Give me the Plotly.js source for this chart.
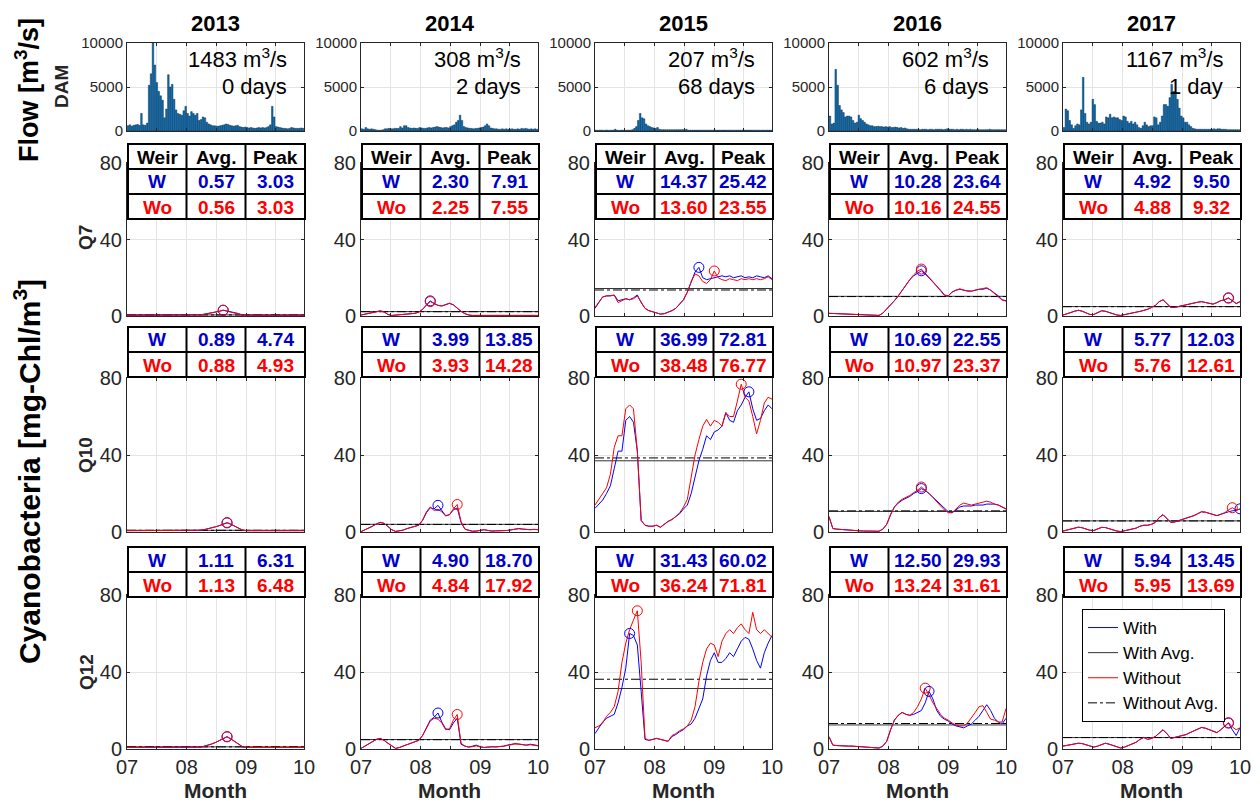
<!DOCTYPE html>
<html><head><meta charset="utf-8">
<script src="https://cdn.plot.ly/plotly-3.0.1.min.js"></script>
<style>html,body{margin:0;padding:0;background:#fff}#chart{width:1260px;height:808px}</style>
</head><body><div id="chart"></div>
<script>
// ---------------- DATA ----------------
const years = ['2013', '2014', '2015', '2016', '2017'];
const monthLabels = ['07', '08', '09', '10'];
const rowNames = ['DAM', 'Q7', 'Q10', 'Q12'];
const flowTicks = [0, 5000, 10000];
const flowTickLabels = ['0', '5000', '10000'];
const chlTicks = [0, 40, 80];
const flowRate = [1483, 308, 207, 602, 1167];
const flowDays = ['0 days', '2 days', '68 days', '6 days', '1 day'];

// daily DAM discharge (m3/s), Jul 1 .. Sep 30
const dam2013 = [600,700,550,650,700,750,650,2000,700,650, 900,5200,6500,10000,7500,5500,4500,4000,3500,1500,
  2500,6400,5000,5300,3600,2400,2000,1900,1800,2300, 2800,2000,1700,2200,2000,1800,2000,1200,1300,1600,
  1500,1000,800,700,600,600,550,550,600,650, 700,800,750,650,600,550,600,650,500,450,
  400,450,400,350,400,350,300,350,400,350, 400,350,400,500,700,2800,1600,500,450,400,
  350,300,300,250,300,400,350,300,300,300, 350,300];
const dam2014 = [250,200,400,250,200,250,200,150,100,100, 100,150,250,250,300,250,250,300,300,300,
  500,350,600,600,400,350,300,350,300,300, 400,350,300,300,350,400,350,400,450,500,
  450,400,350,400,400,350,500,600,700,1000, 1200,1800,1200,500,400,350,300,300,250,300,
  300,350,400,450,600,800,600,350,300,250, 250,200,200,250,200,250,200,200,250,200,
  200,250,200,300,250,300,250,200,250,200, 250,200];
const dam2015 = [100,80,100,100,80,100,100,80,100,100, 200,100,80,100,100,80,100,100,100,150,
  300,500,1200,2000,1500,1400,800,600,500,400, 350,300,400,200,150,150,150,150,150,150,
  150,150,150,150,150,150,150,200,100,100, 100,100,100,100,100,100,100,100,100,100,
  100,100,100,100,100,100,100,100,100,100, 100,100,100,100,100,100,100,100,100,100,
  100,100,100,100,100,100,100,100,100,100, 100,100];
const dam2016 = [1700,800,900,7000,5200,2900,2400,2100,1600,1700, 1700,1600,1200,900,1000,1800,1400,1200,1000,800,
  700,600,600,500,500,550,500,500,450,500, 450,500,400,400,450,400,350,400,300,350,
  250,200,200,200,200,200,200,150,200,200, 200,150,200,200,150,200,200,200,200,150,
  200,250,200,200,200,150,200,150,200,200, 150,200,150,200,150,150,150,200,150,150,
  150,150,150,200,150,150,150,150,150,150, 150,150];
const dam2017 = [400,2500,2300,1200,700,300,600,800,700,2400, 6100,2000,1000,800,1000,3600,3000,1100,900,900,
  1000,800,1600,1500,1900,1500,1600,1500,1500,1300, 1200,1700,1600,1100,900,1100,800,1000,700,400,
  300,600,1000,700,500,600,600,1600,1500,700, 1000,1700,3000,3000,2800,3800,5300,4500,4300,3600,
  2600,1700,1500,1000,1000,700,500,300,250,200, 200,200,200,200,200,200,200,200,250,200,
  250,250,200,200,200,150,150,150,150,150, 150,150];

// Cyanobacteria (mg-Chl/m3), every 2nd day from Jul 1 (47 samples)
const q7W2013  = [0.4,0.4,0.4,0.4,0.4,0.4,0.4,0.4,0.4,0.4, 0.4,0.4,0.4,0.4,0.4,0.4,0.4,0.4,0.5,0.6, 0.9,1.2,1.6,2.0,2.5,3.03,2.6,2.2,1.8,1.3, 0.5,0.4,0.4,0.4,0.4,0.4,0.4,0.4,0.4,0.4, 0.4,0.4,0.4,0.4,0.4,0.4,0.4];
const q7Wo2013 = [0.4,0.4,0.4,0.4,0.4,0.4,0.4,0.4,0.4,0.4, 0.4,0.4,0.4,0.4,0.4,0.4,0.4,0.4,0.5,0.6, 0.9,1.2,1.6,2.0,2.4,3.03,2.5,2.2,1.8,1.3, 0.5,0.4,0.4,0.4,0.4,0.4,0.4,0.4,0.4,0.4, 0.4,0.4,0.4,0.4,0.4,0.4,0.4];
const q10W2013  = [0.7,0.7,0.7,0.7,0.7,0.7,0.7,0.7,0.7,0.7, 0.7,0.7,0.7,0.7,0.7,0.7,0.7,0.7,0.8,0.9, 1.2,1.6,2.1,2.7,3.3,4.0,4.74,4.0,3.0,2.0, 1.0,0.7,0.7,0.7,0.7,0.7,0.7,0.7,0.7,0.7, 0.7,0.7,0.7,0.7,0.7,0.7,0.7];
const q10Wo2013 = [0.7,0.7,0.7,0.7,0.7,0.7,0.7,0.7,0.7,0.7, 0.7,0.7,0.7,0.7,0.7,0.7,0.7,0.7,0.8,0.9, 1.2,1.6,2.1,2.7,3.3,4.1,4.93,4.1,3.0,2.0, 1.0,0.7,0.7,0.7,0.7,0.7,0.7,0.7,0.7,0.7, 0.7,0.7,0.7,0.7,0.7,0.7,0.7];
const q12W2013  = [0.8,0.8,0.8,0.8,0.8,0.8,0.8,0.8,0.8,0.8, 0.8,0.8,0.8,0.8,0.8,0.8,0.8,0.8,0.9,1.0, 1.4,1.9,2.6,3.4,4.3,5.3,6.31,5.2,3.8,2.4, 1.2,0.8,0.8,0.8,0.8,0.8,0.8,0.8,0.8,0.8, 0.8,0.8,0.8,0.8,0.8,0.8,0.8];
const q12Wo2013 = [0.8,0.8,0.8,0.8,0.8,0.8,0.8,0.8,0.8,0.8, 0.8,0.8,0.8,0.8,0.8,0.8,0.8,0.8,0.9,1.0, 1.4,1.9,2.6,3.4,4.3,5.4,6.48,5.3,3.8,2.4, 1.2,0.8,0.8,0.8,0.8,0.8,0.8,0.8,0.8,0.8, 0.8,0.8,0.8,0.8,0.8,0.8,0.8];

const q7W2014  = [0.5,1.0,1.5,2.0,2.4,2.7,2.2,0.8,0.3,0.4, 0.6,0.8,1.0,1.2,1.4,2.0,3.5,6.0,7.91,6.6, 5.6,5.2,6.0,6.6,5.8,4.0,2.4,1.2,0.5,0.3, 0.3,0.4,0.6,0.5,0.3,0.3,0.3,0.4,0.4,0.3, 0.3,0.3,0.4,0.4,0.3,0.3,0.3];
const q7Wo2014 = [0.5,1.0,1.5,2.0,2.4,2.6,2.1,0.8,0.3,0.4, 0.6,0.8,1.0,1.2,1.4,2.0,3.4,5.8,7.55,6.4, 5.5,5.3,6.1,6.7,5.9,4.1,2.5,1.2,0.5,0.3, 0.3,0.4,0.6,0.5,0.3,0.3,0.3,0.4,0.4,0.3, 0.3,0.3,0.4,0.4,0.3,0.3,0.3];
const q10W2014  = [0.2,1.0,2.0,3.0,4.2,5.0,4.5,3.0,1.2,0.3, 0.5,1.0,1.8,2.3,2.8,3.5,6.0,10.0,12.6,12.0, 13.85,11.0,8.5,9.0,11.5,12.5,5.0,1.5,0.8,0.4, 0.5,1.0,1.2,0.8,0.5,0.6,0.8,0.7,0.8,1.2, 1.6,1.8,1.5,1.2,1.2,1.4,1.2];
const q10Wo2014 = [0.2,1.0,2.0,3.0,4.2,5.0,4.5,3.0,1.2,0.3, 0.5,1.0,1.8,2.3,2.8,3.5,6.2,10.5,13.0,11.2, 11.8,10.5,8.3,9.0,12.0,14.28,5.5,1.5,0.8,0.4, 0.5,1.0,1.2,0.8,0.5,0.6,0.8,0.7,0.8,1.2, 1.5,1.7,1.5,1.2,1.2,1.3,1.2];
const q12W2014  = [0.3,1.5,3.0,4.0,5.0,5.5,4.5,3.0,1.5,0.3, 0.8,1.5,2.5,3.0,3.5,4.5,7.0,11.0,15.0,16.5, 18.7,14.0,10.5,10.0,13.5,16.0,2.5,1.5,1.0,1.5, 2.0,1.2,0.8,1.0,1.2,1.0,1.2,1.5,2.0,2.5, 2.8,2.6,2.2,2.0,2.5,2.0,1.8];
const q12Wo2014 = [0.3,1.5,3.0,4.0,5.0,5.5,4.5,3.0,1.5,0.3, 0.8,1.5,2.5,3.0,3.5,4.5,7.0,10.5,14.5,16.0, 15.5,13.5,10.0,10.5,15.0,17.92,3.0,1.5,1.0,1.2, 1.6,1.0,0.8,1.0,1.1,1.0,1.2,1.4,1.8,2.2, 2.6,2.5,2.2,2.0,2.2,1.8,1.6];

const q7W2015  = [4.0,7.0,10.0,10.5,10.5,11.0,8.0,8.5,9.0,8.5, 9.5,11.0,7.0,4.0,2.8,2.2,1.5,1.0,1.2,1.8, 2.8,4.0,6.0,8.5,12.5,18.0,23.0,25.42,20.0,19.0, 19.5,20.0,20.5,21.0,20.5,21.0,20.0,20.5,21.0,20.0, 20.5,20.0,21.0,20.5,20.0,21.0,19.5];
const q7Wo2015 = [4.5,7.5,10.0,10.5,10.5,10.8,7.0,8.0,9.0,8.5, 9.0,10.5,7.0,4.0,2.8,2.2,1.5,1.0,1.2,1.8, 2.8,4.0,6.0,8.5,12.5,18.0,22.0,21.0,18.0,17.0, 19.0,23.55,20.0,19.0,18.5,19.5,19.0,18.5,19.5,19.0, 19.5,19.0,19.5,19.0,19.5,20.5,19.0];
const q10W2015  = [12.3,14.5,16.6,20,24,33,42,42,58,60, 57,42,6,3.5,3,3,3.5,2.5,4,5.5, 6.5,8,9.5,12,14,20,28,37,43,50, 48,52,53,55,62,58,57,63,66,70, 72.81,64,58,59,63,66,64];
const q10Wo2015 = [14,17,20,23,30,44,50,50,64,66, 64,42,6,3.5,3,3,3.5,2.5,4,5.5, 6.5,8,10,13,17,28,40,48,55,58.5, 55,58,57,55,62,60,60,68,76.77,70, 68,60,51,58,67,70,69];
const q12W2015  = [8,11,14,16,17,18,24,32,42,60.02, 59,54,30,5,4.5,5,5.5,5,4.5,4, 6.5,7.5,9,10,12,13,16,21,26,38, 46,50,45,45,47,50,48,52,56,58, 57,52,46,42,50,55,59];
const q12Wo2015 = [11,12,13.5,17,19,22,30,45,55,62, 67,71.81,45,5.5,4.5,5,5.5,5,4.5,4, 7,8,9.5,10.5,12,15,22,35,45,52, 55,54,48,56,60,62,60,63,65,62, 60,71,62,60,62,60,58];

const q7W2016  = [1.4,1.3,1.2,1.1,1.0,1.0,0.9,0.8,0.7,0.6, 0.5,0.4,0.3,0.3,1.5,3.5,5.5,8.0,10.5,13.5, 16.0,19.0,21.0,22.5,23.64,22.0,20.0,18.0,16.0,13.5, 11.0,10.5,12.5,13.5,14.0,13.5,13.0,13.0,13.5,14.0, 14.0,14.5,13.5,12.0,10.5,8.5,8.0];
const q7Wo2016 = [1.4,1.3,1.2,1.1,1.0,1.0,0.9,0.8,0.7,0.6, 0.5,0.4,0.3,0.3,1.5,3.5,5.5,8.0,10.5,13.5, 16.0,19.0,21.5,23.5,24.55,22.5,20.0,18.0,15.5,13.0, 10.8,10.5,12.5,13.5,14.2,13.5,13.2,13.0,13.5,14.0, 14.3,14.8,13.5,11.5,10.0,8.3,7.8];
const q10W2016  = [8.0,1.8,1.5,1.3,1.2,1.0,0.9,0.8,0.6,0.5, 0.4,0.3,0.3,0.4,1.5,4.0,9.0,13.0,15.0,16.5, 17.5,18.5,20.0,21.0,22.55,21.5,20.0,18.0,16.0,14.0, 12.0,10.5,10.0,11.5,13.0,13.5,13.5,13.5,14.0,14.0, 14.0,14.5,14.5,14.5,14.0,13.0,12.0];
const q10Wo2016 = [8.0,1.8,1.5,1.3,1.2,1.0,0.9,0.8,0.6,0.5, 0.4,0.3,0.3,0.4,1.5,4.0,9.0,13.0,15.5,17.0, 18.0,19.0,20.5,21.5,23.37,21.8,20.0,18.0,15.5,13.5, 11.5,10.0,10.0,12.0,14.0,15.0,14.5,14.0,14.5,15.0, 15.5,16.0,15.5,14.5,14.0,13.0,12.0];
const q12W2016  = [6.4,2.0,1.8,1.6,1.5,1.5,1.5,1.4,1.3,1.3, 1.2,1.0,0.8,0.5,1.5,4.0,10.0,15.0,17.5,19.0, 18.0,17.5,18.0,19.0,20.0,24.0,29.93,26.0,20.0,17.0, 15.5,14.5,13.0,12.0,11.5,11.0,12.0,13.0,15.0,17.0, 20.0,23.0,20.0,16.0,14.0,13.0,16.0];
const q12Wo2016 = [6.4,2.0,1.8,1.6,1.5,1.5,1.5,1.4,1.3,1.3, 1.2,1.0,0.8,0.5,1.5,4.0,10.0,15.0,17.5,19.0, 18.0,17.5,19.0,22.0,26.0,31.61,28.0,24.0,21.0,18.0, 16.0,15.0,13.5,12.5,12.0,12.0,13.5,16.0,19.0,22.0, 22.5,19.0,15.5,15.0,14.0,14.0,21.0];

const q7W2017  = [0.5,1.0,1.8,2.5,3.0,2.5,1.5,0.8,0.8,1.8, 2.7,2.5,1.8,1.0,0.5,0.3,0.8,1.2,1.6,2.0, 2.4,2.8,3.5,4.5,5.5,7.5,8.5,6.5,4.5,4.5, 5.0,5.5,5.8,6.2,6.8,7.2,7.5,7.0,6.5,6.2, 7.0,8.0,8.5,9.5,8.0,6.5,7.5];
const q7Wo2017 = [0.5,1.0,1.8,2.5,3.0,2.5,1.5,0.8,0.8,1.8, 2.7,2.5,1.8,1.0,0.5,0.3,0.8,1.2,1.6,2.0, 2.4,2.8,3.5,4.5,5.5,7.5,8.5,6.5,4.5,4.5, 5.0,5.5,5.8,6.2,6.8,7.2,7.5,7.0,6.5,6.2, 7.0,8.0,8.4,9.32,8.0,6.5,7.5];
const q10W2017  = [0.5,1.0,1.7,2.2,2.5,2.2,1.5,0.9,0.8,1.5, 2.4,2.3,1.7,1.0,0.5,0.2,0.6,1.0,1.5,2.0, 3.0,3.5,3.5,4.0,5.0,7.5,9.0,7.0,5.0,5.2, 5.8,6.5,7.0,7.8,8.5,9.5,10.5,10.3,9.8,9.0, 8.5,9.2,10.0,10.5,11.0,11.2,12.03];
const q10Wo2017 = [0.5,1.0,1.7,2.2,2.5,2.2,1.5,0.9,0.8,1.5, 2.4,2.3,1.7,1.0,0.5,0.2,0.6,1.0,1.5,2.0, 3.0,3.5,3.5,4.0,5.0,7.5,9.0,7.0,5.0,5.2, 5.8,6.5,7.0,7.8,8.5,9.5,10.5,10.3,9.8,9.0, 8.5,9.2,10.0,11.5,12.61,11.5,11.8];
const q12W2017  = [1.5,1.8,2.2,2.6,3.0,2.8,2.2,1.5,1.0,1.5, 2.3,3.0,2.5,1.8,1.0,0.5,1.0,1.8,2.5,3.5, 5.0,6.0,5.0,5.5,6.5,8.5,10.0,8.0,5.5,6.0, 6.5,7.0,7.5,8.5,9.5,10.5,11.2,10.8,10.0,9.0, 8.5,10.0,11.5,13.45,10.0,7.0,11.0];
const q12Wo2017 = [1.5,1.8,2.2,2.6,3.0,2.8,2.2,1.5,1.0,1.5, 2.3,3.0,2.5,1.8,1.0,0.5,1.0,1.8,2.5,3.5, 5.0,6.0,5.0,5.5,6.5,8.5,10.0,8.0,5.5,6.0, 6.5,7.0,7.5,8.5,9.5,10.5,11.2,10.8,10.0,9.0, 8.5,10.0,11.8,13.69,11.5,10.0,11.0];

// table values
const q7AvgW   = [0.57, 2.30, 14.37, 10.28, 4.92];
const q7AvgWo  = [0.56, 2.25, 13.60, 10.16, 4.88];
const q7PeakW  = [3.03, 7.91, 25.42, 23.64, 9.50];
const q7PeakWo = [3.03, 7.55, 23.55, 24.55, 9.32];
const q10AvgW   = [0.89, 3.99, 36.99, 10.69, 5.77];
const q10AvgWo  = [0.88, 3.93, 38.48, 10.97, 5.76];
const q10PeakW  = [4.74, 13.85, 72.81, 22.55, 12.03];
const q10PeakWo = [4.93, 14.28, 76.77, 23.37, 12.61];
const q12AvgW   = [1.11, 4.90, 31.43, 12.50, 5.94];
const q12AvgWo  = [1.13, 4.84, 36.24, 13.24, 5.95];
const q12PeakW  = [6.31, 18.70, 60.02, 29.93, 13.45];
const q12PeakWo = [6.48, 17.92, 71.81, 31.61, 13.69];

// ---------------- BUILD ----------------
const FONT = 'Liberation Sans, Arial, Helvetica, sans-serif';
const W = 1260, H = 808;
const colLeft = [127, 361, 595, 829, 1063];
const plotW = 177;
const rowTop = [43, 163, 378, 595];
const rowBot = [131, 316, 532, 749];
const BLUE = '#0000ff', BLUE_TXT = '#0000cc', RED = '#ff0000';
const px = v => v / W, py = v => 1 - v / H;

const damByYear = [dam2013, dam2014, dam2015, dam2016, dam2017];
const qData = [
  null,
  {W: [q7W2013, q7W2014, q7W2015, q7W2016, q7W2017], Wo: [q7Wo2013, q7Wo2014, q7Wo2015, q7Wo2016, q7Wo2017],
   avgW: q7AvgW, avgWo: q7AvgWo, peakW: q7PeakW, peakWo: q7PeakWo},
  {W: [q10W2013, q10W2014, q10W2015, q10W2016, q10W2017], Wo: [q10Wo2013, q10Wo2014, q10Wo2015, q10Wo2016, q10Wo2017],
   avgW: q10AvgW, avgWo: q10AvgWo, peakW: q10PeakW, peakWo: q10PeakWo},
  {W: [q12W2013, q12W2014, q12W2015, q12W2016, q12W2017], Wo: [q12Wo2013, q12Wo2014, q12Wo2015, q12Wo2016, q12Wo2017],
   avgW: q12AvgW, avgWo: q12AvgWo, peakW: q12PeakW, peakWo: q12PeakWo}
];

const nDays = 92;
const barX = damByYear[0].map((_, i) => i + 0.5);
const lineX = q7W2013.map((_, i) => i * 2);
const tickPos = [0, 15.5, 31, 46.5, 62, 77, 92];
const tickTxt = [monthLabels[0], '', monthLabels[1], '', monthLabels[2], '', monthLabels[3]];

const traces = [];
const layout = {
  width: W, height: H, margin: {l: 0, r: 0, t: 0, b: 0, pad: 0},
  paper_bgcolor: '#fff', plot_bgcolor: '#fff',
  font: {family: FONT, color: '#262626'},
  showlegend: true,
  legend: {x: px(1082), y: py(609), xanchor: 'left', yanchor: 'top', bgcolor: '#fff',
    bordercolor: '#000', borderwidth: 1, font: {size: 17, color: '#000', family: FONT},
    tracegroupgap: 0, itemwidth: 30, traceorder: 'normal'},
  annotations: [], shapes: []
};

function argmax(a) { let k = 0; a.forEach((v, i) => { if (v > a[k]) k = i; }); return k; }

let k = 0;
for (let r = 0; r < 4; r++) {
  for (let c = 0; c < 5; c++) {
    k++;
    const sx = k === 1 ? '' : String(k);
    const xa = 'x' + sx, ya = 'y' + sx;
    const L = colLeft[c];
    layout['xaxis' + sx] = {
      domain: [px(L), px(L + plotW)], anchor: ya, range: [0, nDays],
      tickmode: 'array', tickvals: tickPos, ticktext: r === 3 ? tickTxt : tickPos.map(() => ''),
      showgrid: true, gridcolor: '#e4e4e4', gridwidth: 1, zeroline: false,
      showline: true, mirror: 'ticks', linecolor: '#262626', linewidth: 1,
      ticks: 'inside', ticklen: 3, tickcolor: '#262626',
      tickfont: {size: 20, color: '#262626', family: FONT}, fixedrange: true
    };
    layout['yaxis' + sx] = {
      domain: [py(rowBot[r]), py(rowTop[r])], anchor: xa,
      range: r === 0 ? [0, 10000] : [0, 80],
      tickmode: 'array', tickvals: r === 0 ? flowTicks : chlTicks,
      ticktext: r === 0 ? flowTickLabels : chlTicks.map(String),
      showgrid: true, gridcolor: '#e4e4e4', gridwidth: 1, zeroline: false,
      showline: true, mirror: 'ticks', linecolor: '#262626', linewidth: 1,
      ticks: 'inside', ticklen: 3, tickcolor: '#262626',
      tickfont: {size: r === 0 ? 15 : 20, color: '#262626', family: FONT}, fixedrange: true
    };
    if (r === 0) {
      traces.push({type: 'bar', x: barX, y: damByYear[c], xaxis: xa, yaxis: ya, width: 0.85,
        marker: {color: '#0072BD', line: {color: '#0a1a30', width: 0.4}}, showlegend: false, hoverinfo: 'skip'});
    } else {
      const d = qData[r];
      const leg = (r === 3 && c === 4);
      const sW = d.W[c], sWo = d.Wo[c];
      traces.push({type: 'scatter', mode: 'lines', x: [0, nDays], y: [d.avgW[c], d.avgW[c]], xaxis: xa, yaxis: ya,
        line: {color: '#333333', width: 1}, name: 'With Avg.', showlegend: leg, legendrank: 2, hoverinfo: 'skip'});
      traces.push({type: 'scatter', mode: 'lines', x: [0, nDays], y: [d.avgWo[c], d.avgWo[c]], xaxis: xa, yaxis: ya,
        line: {color: '#000000', width: 1, dash: 'dashdot'}, name: 'Without Avg.', showlegend: leg, legendrank: 4, hoverinfo: 'skip'});
      traces.push({type: 'scatter', mode: 'lines', x: lineX, y: sW, xaxis: xa, yaxis: ya,
        line: {color: BLUE, width: 1}, name: 'With', showlegend: leg, legendrank: 1, hoverinfo: 'skip'});
      traces.push({type: 'scatter', mode: 'lines', x: lineX, y: sWo, xaxis: xa, yaxis: ya,
        line: {color: RED, width: 1}, name: 'Without', showlegend: leg, legendrank: 3, hoverinfo: 'skip'});
      const iW = argmax(sW), iWo = argmax(sWo);
      traces.push({type: 'scatter', mode: 'markers', x: [lineX[iW]], y: [d.peakW[c]], xaxis: xa, yaxis: ya,
        marker: {symbol: 'circle-open', size: 10, color: BLUE, line: {width: 1, color: BLUE}}, showlegend: false, hoverinfo: 'skip'});
      traces.push({type: 'scatter', mode: 'markers', x: [lineX[iWo]], y: [d.peakWo[c]], xaxis: xa, yaxis: ya,
        marker: {symbol: 'circle-open', size: 10, color: RED, line: {width: 1, color: RED}}, showlegend: false, hoverinfo: 'skip'});

      // tables
      const rowsY = r === 1 ? [144, 169, 194, 219] : (r === 2 ? [327, 352, 377] : [547, 572, 597]);
      const x0 = L + 1, x3 = L + plotW + 1, x1 = x0 + 58.5, x2 = x0 + 117.5;
      layout.shapes.push({type: 'rect', xref: 'paper', yref: 'paper', x0: px(x0), x1: px(x3),
        y0: py(rowsY[rowsY.length - 1]), y1: py(rowsY[0]), fillcolor: '#fff', line: {color: '#000', width: 2}, layer: 'above'});
      for (let i = 1; i < rowsY.length - 1; i++) {
        layout.shapes.push({type: 'line', xref: 'paper', yref: 'paper', x0: px(x0), x1: px(x3), y0: py(rowsY[i]), y1: py(rowsY[i]),
          line: {color: '#000', width: 2}, layer: 'above'});
      }
      [x1, x2].forEach(xx => layout.shapes.push({type: 'line', xref: 'paper', yref: 'paper', x0: px(xx), x1: px(xx),
        y0: py(rowsY[rowsY.length - 1]), y1: py(rowsY[0]), line: {color: '#000', width: 2}, layer: 'above'}));
      const cellX = [(x0 + x1) / 2, (x1 + x2) / 2, (x2 + x3) / 2];
      const rowsTxt = [];
      if (r === 1) rowsTxt.push({t: ['Weir', 'Avg.', 'Peak'], col: '#000'});
      rowsTxt.push({t: ['W', d.avgW[c].toFixed(2), d.peakW[c].toFixed(2)], col: BLUE_TXT});
      rowsTxt.push({t: ['Wo', d.avgWo[c].toFixed(2), d.peakWo[c].toFixed(2)], col: RED});
      rowsTxt.forEach((row, i) => {
        const yc = (rowsY[i] + rowsY[i + 1]) / 2 + 0.5;
        row.t.forEach((txt, j) => layout.annotations.push({xref: 'paper', yref: 'paper', x: px(cellX[j]), y: py(yc),
          xanchor: 'center', yanchor: 'middle', showarrow: false, text: '<b>' + txt + '</b>',
          font: {size: 19, color: row.col, family: FONT}}));
      });
    }
  }
}

// column titles, DAM texts, Month labels
years.forEach((yr, c) => {
  const L = colLeft[c];
  layout.annotations.push({xref: 'paper', yref: 'paper', x: px(L + plotW / 2), y: py(23), xanchor: 'center', yanchor: 'middle',
    showarrow: false, text: '<b>' + yr + '</b>', font: {size: 22, color: '#000', family: FONT}});
  layout.annotations.push({xref: 'paper', yref: 'paper', x: px(L + 162), y: py(58), xanchor: 'right', yanchor: 'middle',
    showarrow: false, text: flowRate[c] + ' m<sup>3</sup>/s', font: {size: 22, color: '#000', family: FONT}});
  layout.annotations.push({xref: 'paper', yref: 'paper', x: px(L + 162), y: py(87), xanchor: 'right', yanchor: 'middle',
    showarrow: false, text: flowDays[c], font: {size: 22, color: '#000', family: FONT}});
  layout.annotations.push({xref: 'paper', yref: 'paper', x: px(L + plotW / 2), y: py(790), xanchor: 'center', yanchor: 'middle',
    showarrow: false, text: '<b>Month</b>', font: {size: 21, color: '#262626', family: FONT}});
});

// row labels
const rowLabelX = [62, 86, 86, 86];
const rowLabelY = [87, 237, 455, 672];
rowNames.forEach((nm, r) => layout.annotations.push({xref: 'paper', yref: 'paper', x: px(rowLabelX[r]), y: py(rowLabelY[r]),
  xanchor: 'center', yanchor: 'middle', textangle: -90, showarrow: false, text: '<b>' + nm + '</b>',
  font: {size: 19, color: '#262626', family: FONT}}));

layout.annotations.push({xref: 'paper', yref: 'paper', x: px(27), y: py(90), xanchor: 'center', yanchor: 'middle',
  textangle: -90, showarrow: false, text: '<b>Flow [m<sup>3</sup>/s]</b>', font: {size: 27, color: '#000', family: FONT}});
layout.annotations.push({xref: 'paper', yref: 'paper', x: px(27), y: py(472), xanchor: 'center', yanchor: 'middle',
  textangle: -90, showarrow: false, text: '<b>Cyanobacteria [mg-Chl/m<sup>3</sup>]</b>', font: {size: 30, color: '#000', family: FONT}});

Plotly.newPlot('chart', traces, layout, {displayModeBar: false, staticPlot: true});
</script></body></html>
